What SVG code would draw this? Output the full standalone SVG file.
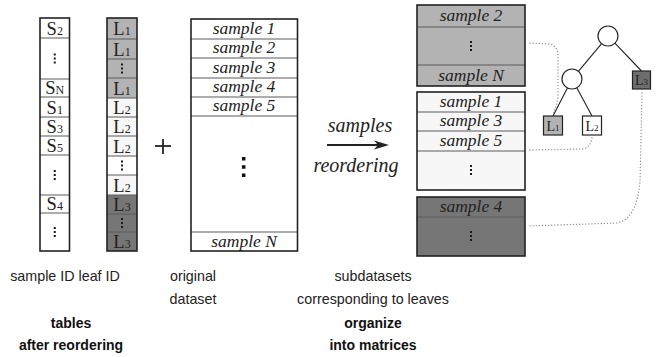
<svg xmlns="http://www.w3.org/2000/svg" xmlns:xlink="http://www.w3.org/1999/xlink" width="657" height="357" viewBox="0 0 657 357">
  <style>
    .frame { fill: none; stroke: #222; stroke-width: 1.6; }
    .div { stroke: #5a5a5a; stroke-width: 1; }
    .lt { fill: #f7f7f7; }
    .md { fill: #b3b3b3; }
    .dk { fill: #767676; }
    .wh { fill: #ffffff; }
    .id { font-family: "Liberation Serif", "Times New Roman", serif; font-size: 18.5px; fill: #222; text-anchor: middle; }
    .id tspan { font-size: 12px; }
    .smp { font-family: "Liberation Serif", "Times New Roman", serif; font-style: italic; font-size: 17.5px; fill: #222; text-anchor: middle; }
    .arr { font-family: "Liberation Serif", "Times New Roman", serif; font-style: italic; font-size: 20px; fill: #222; text-anchor: middle; }
    .cap { font-family: "Liberation Sans", Arial, sans-serif; font-size: 14.3px; fill: #222; text-anchor: middle; }
    .ttl { font-family: "Liberation Sans", Arial, sans-serif; font-size: 14px; font-weight: bold; fill: #111; text-anchor: middle; }
    .edge { stroke: #222; stroke-width: 1.1; fill: none; }
    .node { fill: #fff; stroke: #222; stroke-width: 1.2; }
    .leaf { stroke: #222; stroke-width: 1.2; }
    .leafid { font-family: "Liberation Serif", "Times New Roman", serif; font-size: 14px; fill: #222; text-anchor: middle; }
    .leafid tspan { font-size: 9px; }
    .dot { stroke: #8a8a8a; stroke-width: 1.3; fill: none; stroke-dasharray: 0.1 3; stroke-linecap: round; }
  </style>
  <defs>
    <g id="dots" fill="#1a1a1a">
      <rect x="-1" y="-5" width="2" height="2"/>
      <rect x="-1" y="-1" width="2" height="2"/>
      <rect x="-1" y="3" width="2" height="2"/>
    </g>
    <g id="bigdots" fill="#111">
      <rect x="-1.75" y="-10" width="3.5" height="3.5"/>
      <rect x="-1.75" y="-1.75" width="3.5" height="3.5"/>
      <rect x="-1.75" y="6.5" width="3.5" height="3.5"/>
    </g>
  </defs>

  <!-- sample ID table -->
  <g id="sample-id-table">
    <rect class="wh" x="40" y="18" width="29.5" height="233"/>
    <g class="div">
      <line x1="40" y1="38" x2="69.5" y2="38"/>
      <line x1="40" y1="79" x2="69.5" y2="79"/>
      <line x1="40" y1="97" x2="69.5" y2="97"/>
      <line x1="40" y1="117" x2="69.5" y2="117"/>
      <line x1="40" y1="136" x2="69.5" y2="136"/>
      <line x1="40" y1="155" x2="69.5" y2="155"/>
      <line x1="40" y1="195" x2="69.5" y2="195"/>
      <line x1="40" y1="213" x2="69.5" y2="213"/>
    </g>
    <rect class="frame" x="40" y="18" width="29.5" height="233"/>
    <text class="id" x="54.75" y="34.5">S<tspan>2</tspan></text>
    <use xlink:href="#dots" x="54.75" y="58.5"/>
    <text class="id" x="54.75" y="94">S<tspan>N</tspan></text>
    <text class="id" x="54.75" y="113.5">S<tspan>1</tspan></text>
    <text class="id" x="54.75" y="132.5">S<tspan>3</tspan></text>
    <text class="id" x="54.75" y="151.5">S<tspan>5</tspan></text>
    <use xlink:href="#dots" x="54.75" y="175"/>
    <text class="id" x="54.75" y="210">S<tspan>4</tspan></text>
    <use xlink:href="#dots" x="54.75" y="232"/>
  </g>

  <!-- leaf ID table -->
  <g id="leaf-id-table">
    <rect class="md" x="107" y="18" width="30" height="80"/>
    <rect class="lt" x="107" y="98" width="30" height="97"/>
    <rect class="wh" x="107" y="156" width="30" height="19"/>
    <rect class="dk" x="107" y="195" width="30" height="56"/>
    <g class="div">
      <line x1="107" y1="39" x2="137" y2="39"/>
      <line x1="107" y1="59" x2="137" y2="59"/>
      <line x1="107" y1="78" x2="137" y2="78"/>
      <line x1="107" y1="98" x2="137" y2="98"/>
      <line x1="107" y1="117" x2="137" y2="117"/>
      <line x1="107" y1="136" x2="137" y2="136"/>
      <line x1="107" y1="156" x2="137" y2="156"/>
      <line x1="107" y1="175" x2="137" y2="175"/>
      <line x1="107" y1="195" x2="137" y2="195"/>
      <line x1="107" y1="214" x2="137" y2="214"/>
      <line x1="107" y1="232" x2="137" y2="232"/>
    </g>
    <rect class="frame" x="107" y="18" width="30" height="233"/>
    <text class="id" x="122" y="35">L<tspan>1</tspan></text>
    <text class="id" x="122" y="55.5">L<tspan>1</tspan></text>
    <use xlink:href="#dots" x="122" y="68.5"/>
    <text class="id" x="122" y="94.5">L<tspan>1</tspan></text>
    <text class="id" x="122" y="113.5">L<tspan>2</tspan></text>
    <text class="id" x="122" y="132.5">L<tspan>2</tspan></text>
    <text class="id" x="122" y="152.5">L<tspan>2</tspan></text>
    <use xlink:href="#dots" x="122" y="165.5"/>
    <text class="id" x="122" y="191.5">L<tspan>2</tspan></text>
    <text class="id" x="122" y="210.5">L<tspan>3</tspan></text>
    <use xlink:href="#dots" x="122" y="223"/>
    <text class="id" x="122" y="247.5">L<tspan>3</tspan></text>
  </g>

  <!-- plus sign -->
  <g id="plus" stroke="#222" stroke-width="1.8">
    <line x1="155" y1="146" x2="171" y2="146"/>
    <line x1="163" y1="139" x2="163" y2="154"/>
  </g>

  <!-- original dataset -->
  <g id="original-dataset">
    <rect class="wh" x="191" y="19" width="106.5" height="232"/>
    <g class="div">
      <line x1="191" y1="39" x2="297.5" y2="39"/>
      <line x1="191" y1="58" x2="297.5" y2="58"/>
      <line x1="191" y1="78" x2="297.5" y2="78"/>
      <line x1="191" y1="97" x2="297.5" y2="97"/>
      <line x1="191" y1="116" x2="297.5" y2="116"/>
      <line x1="191" y1="232" x2="297.5" y2="232"/>
    </g>
    <rect class="frame" x="191" y="19" width="106.5" height="232"/>
    <text class="smp" x="244" y="33.5">sample 1</text>
    <text class="smp" x="244" y="53">sample 2</text>
    <text class="smp" x="244" y="72.5">sample 3</text>
    <text class="smp" x="244" y="92">sample 4</text>
    <text class="smp" x="244" y="111">sample 5</text>
    <use xlink:href="#bigdots" x="243.7" y="167"/>
    <text class="smp" x="244" y="246.5">sample N</text>
  </g>

  <!-- reordering arrow -->
  <g id="reorder-arrow">
    <line x1="327" y1="145" x2="379" y2="145" stroke="#222" stroke-width="2"/>
    <polygon points="389,145 374,140.5 378,145 374,149.5" fill="#222"/>
    <text class="arr" x="360" y="132">samples</text>
    <text class="arr" x="356" y="171.5">reordering</text>
  </g>

  <!-- subdataset for leaf L1 -->
  <g id="subset-l1">
    <rect class="md" x="417" y="5" width="108" height="81"/>
    <g class="div">
      <line x1="417" y1="27" x2="525" y2="27"/>
      <line x1="417" y1="65" x2="525" y2="65"/>
    </g>
    <rect class="frame" x="417" y="5" width="108" height="81"/>
    <text class="smp" x="471" y="21">sample 2</text>
    <use xlink:href="#dots" x="471" y="46"/>
    <text class="smp" x="471" y="80.5">sample N</text>
  </g>

  <!-- subdataset for leaf L2 -->
  <g id="subset-l2">
    <rect class="lt" x="417" y="92" width="108" height="98"/>
    <g class="div">
      <line x1="417" y1="112" x2="525" y2="112"/>
      <line x1="417" y1="131" x2="525" y2="131"/>
      <line x1="417" y1="151" x2="525" y2="151"/>
    </g>
    <rect class="frame" x="417" y="92" width="108" height="98"/>
    <text class="smp" x="471" y="106.5">sample 1</text>
    <text class="smp" x="471" y="126">sample 3</text>
    <text class="smp" x="471" y="145.5">sample 5</text>
    <use xlink:href="#dots" x="471" y="170"/>
  </g>

  <!-- subdataset for leaf L3 -->
  <g id="subset-l3">
    <rect class="dk" x="417" y="197" width="108" height="59"/>
    <line class="div" x1="417" y1="217" x2="525" y2="217" stroke="#222"/>
    <rect class="frame" x="417" y="197" width="108" height="59"/>
    <text class="smp" x="471" y="212">sample 4</text>
    <use xlink:href="#dots" x="471" y="236"/>
  </g>

  <!-- decision tree -->
  <g id="tree-edges">
    <line class="edge" x1="601.6" y1="43.7" x2="578.4" y2="71.3"/>
    <line class="edge" x1="614.9" y1="43.2" x2="641.5" y2="71"/>
    <line class="edge" x1="567.4" y1="87.9" x2="553" y2="116"/>
    <line class="edge" x1="576.8" y1="87.8" x2="592" y2="116"/>
  </g>
  <g id="root-node">
    <circle class="node" cx="608" cy="36" r="10"/>
  </g>
  <g id="inner-node">
    <circle class="node" cx="572" cy="79" r="10"/>
  </g>
  <g id="leaf-l1">
    <rect class="leaf md" x="543.5" y="116" width="19" height="19"/>
    <text class="leafid" x="553" y="130.5">L<tspan>1</tspan></text>
  </g>
  <g id="leaf-l2">
    <rect class="leaf wh" x="582.5" y="116" width="19" height="19"/>
    <text class="leafid" x="592" y="130.5">L<tspan>2</tspan></text>
  </g>
  <g id="leaf-l3">
    <rect class="leaf" fill="#6e6e6e" x="632.5" y="71" width="18" height="18"/>
    <text class="leafid" x="641.5" y="85">L<tspan>3</tspan></text>
  </g>

  <!-- dotted links from subdatasets to leaves -->
  <g id="connectors">
    <path class="dot" d="M530,43 L550,44 Q558,46 558,57 L558,96 Q557,106 553,114"/>
    <path class="dot" d="M530,150 L583,149 Q591,147 592,137"/>
    <path class="dot" d="M642,93 L640,182 Q636,221 616,223 L528,226"/>
  </g>

  <!-- captions -->
  <g id="captions">
    <text class="cap" x="65" y="281">sample ID leaf ID</text>
    <text class="cap" x="193" y="281">original</text>
    <text class="cap" x="193" y="303.5">dataset</text>
    <text class="cap" x="373" y="281">subdatasets</text>
    <text class="cap" x="373" y="303.5">corresponding to leaves</text>
    <text class="ttl" x="71" y="328">tables</text>
    <text class="ttl" x="71" y="350">after reordering</text>
    <text class="ttl" x="373" y="328">organize</text>
    <text class="ttl" x="373" y="350">into matrices</text>
  </g>
</svg>
